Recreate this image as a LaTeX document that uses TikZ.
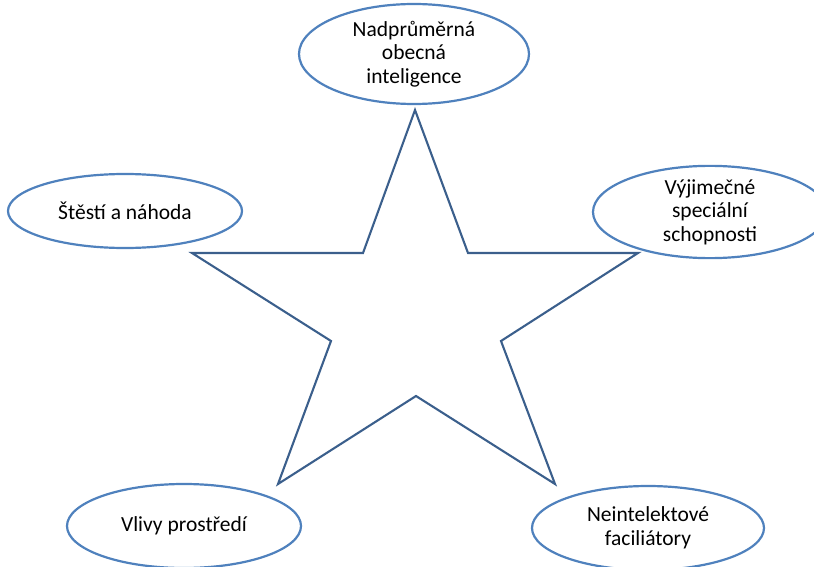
\documentclass[tikz,border=0pt]{standalone}
\usepackage{fontspec}
\setmainfont{Carlito}
\usepackage{tikz}
\usetikzlibrary{shapes.geometric}
\usetikzlibrary{positioning}

\definecolor{ovalblue}{HTML}{4F81BD}
\definecolor{starblue}{HTML}{3B5F8C}

\begin{document}
\begin{tikzpicture}
  [x=1pt, y=-1pt,
  factor/.style={shape=ellipse, draw=ovalblue, line width=2.2pt, fill=white,
         inner sep=0pt, minimum width=234pt, minimum height=78pt,
         align=center, font=\fontsize{21.5}{23.5}\selectfont},
  starline/.style={draw=starblue, line width=2.1pt, line join=miter}
  ]
  \useasboundingbox (0,0) rectangle (814,567);

  % the star
  \draw [starline] (415,110) -- (468,253) -- (638,253) -- (501,341)
     -- (555,484) -- (416,396) -- (278,484) -- (331,341)
     -- (192,253) -- (363,253) -- cycle;

  \path
   (414,54)  node (intel)  [factor, minimum height=100pt, minimum width=230pt]
                {Nadprůměrná\\obecná\\inteligence}
   (125,211) node (luck)   [factor, minimum height=74pt]  {Štěstí a náhoda}
   (710,212) node (special)[factor, minimum height=78pt]  {Výjimečné\\speciální\\schopnosti}
   (184,526) node (env)    [factor, minimum height=84pt]  {Vlivy prostředí}
   (648,528) node (facil)  [factor, minimum height=84pt, minimum width=232pt]
                {Neintelektové\\faciliátory}
   ;

\end{tikzpicture}
\end{document}
